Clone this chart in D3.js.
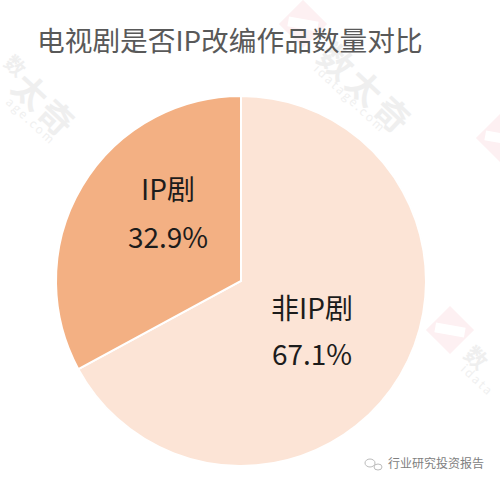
<!DOCTYPE html>
<html><head><meta charset="utf-8">
<script src="https://cdn.jsdelivr.net/npm/d3@7/dist/d3.min.js"></script>
<style>html,body{margin:0;padding:0;background:#fff}svg{display:block}</style>
</head><body><svg id="c" width="500" height="486"></svg>
<script>
const categories=["非IP剧","IP剧"];
const values=[67.1,32.9];
const colors=["#FCE4D6","#F3B083"];
const titleText="电视剧是否IP改编作品数量对比";
const footerText="行业研究投资报告";
const watermarkName="数太奇";
const watermarkSite="idatage.com";
const font="'Noto Sans CJK SC','Noto Sans',sans-serif";
const svg=d3.select("#c");
const cx=241,cy=281,r=185;

function glyph(ch,x,y,size){
 svg.append("text").attr("transform",`translate(${x},${y}) rotate(43)`).attr("text-anchor","middle").attr("dy","0.36em")
  .attr("font-family",font).attr("font-weight",700).attr("font-size",size).attr("fill","#EFEFEF").text(ch);
}
function site(txt,x,y){
 svg.append("text").attr("transform",`translate(${x},${y}) rotate(43)`)
  .attr("font-family",font).attr("font-size",12).attr("letter-spacing",2.2).attr("fill","#F0F0F0").text(txt);
}
function logo(x,y){
 svg.append("rect").attr("x",-17).attr("y",-17).attr("width",34).attr("height",34).attr("transform",`translate(${x},${y}) rotate(45)`).attr("fill","#FDF0F2");
 svg.append("rect").attr("x",-15).attr("y",-5).attr("width",30).attr("height",10).attr("transform",`translate(${x},${y}) rotate(10)`).attr("fill","#fff");
}
logo(303,24);logo(450,330);logo(500,138);
// top-centre mark
glyph(watermarkName[0],336,62,34);glyph(watermarkName[1],364,88,34);glyph(watermarkName[2],392,115,34);
site(watermarkSite,313,70);
// left mark, cut by the page edge in the source
glyph(watermarkName[0],15,66,20);glyph(watermarkName[1],30,92,34);glyph(watermarkName[2],56,118,34);
site(watermarkSite.slice(4),5,103);
// right mark, cut by the page edge in the source
glyph(watermarkName[0],476,358,22);
site(watermarkSite.slice(0,5),460,370);

const pie=d3.pie().sort(null).value(d=>d)(values);
const arc=d3.arc().innerRadius(0).outerRadius(r);
svg.append("text").attr("x",37).attr("y",51).attr("font-family",font).attr("font-size",27.7).attr("fill","#595959").text(titleText);
const g=svg.append("g").attr("transform",`translate(${cx},${cy})`);
g.selectAll("path").data(pie).join("path").attr("d",arc).attr("fill",(d,i)=>colors[i]).attr("stroke","#fff").attr("stroke-width",2);
const labelPos=[[312,319,365],[168,200,248]];
categories.forEach((c,i)=>{
 svg.append("text").attr("x",labelPos[i][0]).attr("y",labelPos[i][1]).attr("text-anchor","middle").attr("font-family",font).attr("font-size",28).attr("fill","#1c1c1c").text(c);
 svg.append("text").attr("x",labelPos[i][0]).attr("y",labelPos[i][2]).attr("text-anchor","middle").attr("font-family",font).attr("font-size",28).attr("fill","#1c1c1c").text(values[i].toFixed(1)+"%");
});
svg.append("text").attr("x",388).attr("y",468).attr("font-family",font).attr("font-size",12).attr("fill","#808080").text(footerText);
const ic=svg.append("g").attr("fill","none").attr("stroke","#bbb").attr("stroke-width",1);
ic.append("ellipse").attr("cx",370).attr("cy",463).attr("rx",5).attr("ry",4);
ic.append("ellipse").attr("cx",378).attr("cy",467).attr("rx",4).attr("ry",3);
</script></body></html>
